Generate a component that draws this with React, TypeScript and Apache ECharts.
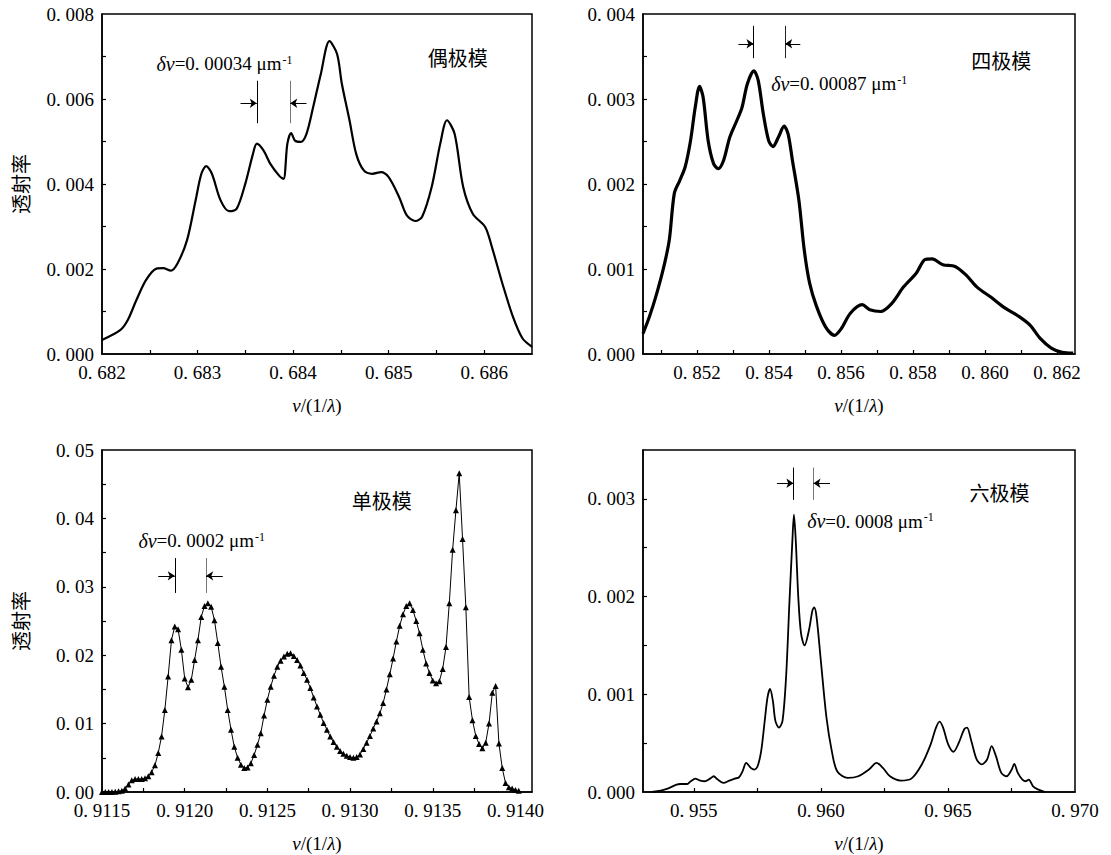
import React, { useEffect, useRef } from "react";
import * as echarts from "echarts";

// ---------- data: [ν, transmittance] ----------
const dipoleData: [number, number][] = [
  [0.682, 0.00033], [0.68219, 0.00056], [0.68227, 0.0008], [0.68236, 0.00127],
  [0.68246, 0.00174], [0.68257, 0.00201], [0.68264, 0.00202], [0.68272, 0.00196],
  [0.68279, 0.00213], [0.68289, 0.00268], [0.68298, 0.00362], [0.68304, 0.00424],
  [0.68309, 0.00442], [0.68315, 0.00424], [0.68324, 0.00362], [0.68333, 0.00336],
  [0.68341, 0.00342], [0.6835, 0.00401], [0.68358, 0.00471], [0.68362, 0.00495],
  [0.68369, 0.00479], [0.68376, 0.00448], [0.68386, 0.00418], [0.6839, 0.00412],
  [0.68394, 0.00495], [0.68398, 0.0052], [0.68402, 0.00502], [0.68408, 0.00499],
  [0.68414, 0.00518], [0.68421, 0.00581], [0.68429, 0.00659], [0.68438, 0.00736],
  [0.68446, 0.00706], [0.68451, 0.00636], [0.68459, 0.0055], [0.68466, 0.00471],
  [0.68474, 0.00432], [0.68483, 0.00424], [0.68492, 0.00428], [0.685, 0.00416],
  [0.68511, 0.00369], [0.68519, 0.00326], [0.68528, 0.00313], [0.68535, 0.00323],
  [0.68545, 0.00393], [0.68554, 0.00495], [0.68561, 0.0055], [0.68569, 0.00518],
  [0.68578, 0.00393], [0.68588, 0.0033], [0.68601, 0.00299], [0.68608, 0.00252],
  [0.68619, 0.00166], [0.6863, 0.00088], [0.6864, 0.00037], [0.6865, 0.00017],
];

const quadrupoleData: [number, number][] = [
  [0.8505, 0.00024], [0.85068, 0.00044], [0.85088, 0.00071], [0.85108, 0.00103],
  [0.85123, 0.00134], [0.85137, 0.00189], [0.85152, 0.00204], [0.85167, 0.0022],
  [0.85182, 0.00251], [0.85195, 0.0029], [0.85207, 0.00315], [0.85217, 0.00302],
  [0.85231, 0.00251], [0.85246, 0.00224], [0.85259, 0.00218], [0.85274, 0.00228],
  [0.85291, 0.00255], [0.85311, 0.00275], [0.85325, 0.0029], [0.8534, 0.00318],
  [0.85358, 0.00333], [0.8537, 0.00322], [0.85384, 0.00283], [0.85399, 0.00251],
  [0.85411, 0.00244], [0.85426, 0.00255], [0.85442, 0.00268], [0.85453, 0.00259],
  [0.85465, 0.00228], [0.85483, 0.00181], [0.85498, 0.00122], [0.85513, 0.00083],
  [0.85532, 0.00056], [0.85557, 0.00032], [0.85582, 0.00022], [0.85601, 0.0003],
  [0.85626, 0.00048], [0.85659, 0.00058], [0.8568, 0.00052], [0.8571, 0.0005],
  [0.8574, 0.00059], [0.85774, 0.00079], [0.85809, 0.00095], [0.85833, 0.00111],
  [0.85853, 0.00112], [0.85883, 0.00105], [0.85917, 0.00103], [0.85947, 0.00093],
  [0.85977, 0.00079], [0.86016, 0.00067], [0.86056, 0.00054], [0.86095, 0.00044],
  [0.86125, 0.00034], [0.86154, 0.00018], [0.86184, 0.00007], [0.86214, 0.00002],
  [0.86245, 0.00001],
];

const monopoleData: [number, number][] = [
  [0.9115, 0], [0.91152, 0], [0.91154, 0], [0.91156, 0], [0.91158, 0.00005],
  [0.9116, 0.0001], [0.91162, 0.0002], [0.91164, 0.0005], [0.91166, 0.0011],
  [0.91168, 0.0017], [0.9117, 0.0019], [0.91172, 0.0019], [0.91174, 0.0019],
  [0.91176, 0.002], [0.91178, 0.0023], [0.9118, 0.0029], [0.91182, 0.0039],
  [0.91184, 0.0057], [0.91186, 0.0081], [0.91188, 0.012], [0.9119, 0.0169],
  [0.91192, 0.0222], [0.91194, 0.0242], [0.91196, 0.0238], [0.91198, 0.0208],
  [0.912, 0.0166], [0.91202, 0.0153], [0.91204, 0.0164], [0.91206, 0.0193],
  [0.91208, 0.0222], [0.9121, 0.0256], [0.91212, 0.0272], [0.91214, 0.0276],
  [0.91216, 0.0271], [0.91218, 0.0251], [0.9122, 0.0218], [0.91222, 0.0183],
  [0.91224, 0.0154], [0.91226, 0.012], [0.91228, 0.0091], [0.9123, 0.0066],
  [0.91232, 0.005], [0.91234, 0.004], [0.91236, 0.0035], [0.91238, 0.0036],
  [0.9124, 0.0042], [0.91242, 0.0054], [0.91244, 0.0069], [0.91246, 0.0086],
  [0.91248, 0.0112], [0.9125, 0.0135], [0.91252, 0.0154], [0.91254, 0.017],
  [0.91256, 0.0183], [0.91258, 0.0192], [0.9126, 0.0198], [0.91262, 0.0202],
  [0.91264, 0.0203], [0.91266, 0.0199], [0.91268, 0.0193], [0.9127, 0.0185],
  [0.91272, 0.0174], [0.91274, 0.0164], [0.91276, 0.0152], [0.91278, 0.0138],
  [0.9128, 0.0125], [0.91282, 0.0113], [0.91284, 0.0101], [0.91286, 0.0091],
  [0.91288, 0.0081], [0.9129, 0.0073], [0.91292, 0.0066], [0.91294, 0.006],
  [0.91296, 0.0056], [0.91298, 0.0053], [0.913, 0.0051], [0.91302, 0.005],
  [0.91304, 0.0051], [0.91306, 0.0055], [0.91308, 0.0063], [0.9131, 0.0072],
  [0.91312, 0.0082], [0.91314, 0.0093], [0.91316, 0.0103], [0.91318, 0.0115],
  [0.9132, 0.013], [0.91322, 0.015], [0.91324, 0.0172], [0.91326, 0.0195],
  [0.91328, 0.022], [0.9133, 0.0243], [0.91332, 0.026], [0.91334, 0.0272],
  [0.91336, 0.0276], [0.91338, 0.0266], [0.9134, 0.025], [0.91342, 0.0232],
  [0.91344, 0.0208], [0.91346, 0.0188], [0.91348, 0.0174], [0.9135, 0.0163],
  [0.91352, 0.0159], [0.91354, 0.0162], [0.91356, 0.018], [0.91358, 0.0212],
  [0.9136, 0.0276], [0.91362, 0.0354], [0.91364, 0.0412], [0.91366, 0.0466],
  [0.91368, 0.037], [0.9137, 0.027], [0.91372, 0.0139], [0.91374, 0.0105],
  [0.91376, 0.0082], [0.91378, 0.007], [0.9138, 0.0064], [0.91382, 0.0072],
  [0.91384, 0.01], [0.91386, 0.0145], [0.91388, 0.0155], [0.9139, 0.0071],
  [0.91392, 0.0035], [0.91394, 0.0013], [0.91396, 0.0007], [0.91398, 0.0005],
  [0.914, 0.0003], [0.91402, 0.0002],
];

const hexapoleData: [number, number][] = [
  [0.95335, 0], [0.9537, 0.000014], [0.95397, 0.000034], [0.95432, 0.000075],
  [0.95446, 0.000082], [0.95474, 0.000082], [0.95488, 0.00011], [0.95506, 0.000137],
  [0.95522, 0.00012], [0.95543, 0.00011], [0.95564, 0.000137], [0.95578, 0.000161],
  [0.95594, 0.000127], [0.95617, 0.000093], [0.9564, 0.000117], [0.95661, 0.000137],
  [0.95678, 0.000151], [0.95692, 0.000213], [0.95706, 0.000299], [0.95724, 0.000247],
  [0.95738, 0.00023], [0.95751, 0.000264], [0.95765, 0.000419], [0.95779, 0.000728],
  [0.9579, 0.000968], [0.958, 0.001054], [0.95811, 0.000934], [0.95821, 0.000728],
  [0.95835, 0.000659], [0.95849, 0.000728], [0.95863, 0.001174], [0.95876, 0.001929],
  [0.95888, 0.002582], [0.95894, 0.002839], [0.95901, 0.002582], [0.95911, 0.001998],
  [0.95922, 0.00162], [0.95936, 0.0015], [0.95953, 0.001655], [0.95967, 0.001861],
  [0.95974, 0.001888], [0.95983, 0.001792], [0.96001, 0.001311], [0.96022, 0.000762],
  [0.96043, 0.000419], [0.96064, 0.000213], [0.96106, 0.000144], [0.96147, 0.000161],
  [0.96189, 0.00023], [0.96219, 0.000299], [0.96244, 0.000247], [0.96272, 0.000161],
  [0.96314, 0.000117], [0.96356, 0.000137], [0.96397, 0.000282], [0.96432, 0.000488],
  [0.96453, 0.000659], [0.96467, 0.000721], [0.96481, 0.000659], [0.96501, 0.000488],
  [0.96522, 0.000412], [0.96543, 0.000505], [0.96564, 0.000642], [0.96575, 0.000659],
  [0.96592, 0.000522], [0.96613, 0.000333], [0.96633, 0.000282], [0.96654, 0.000333],
  [0.96672, 0.00047], [0.96689, 0.000367], [0.9671, 0.000196], [0.96731, 0.000161],
  [0.96751, 0.00023], [0.96761, 0.000288], [0.96775, 0.000196], [0.96793, 0.000127],
  [0.96807, 0.00011], [0.96818, 0.000127], [0.96835, 0.000058], [0.96856, 0.000024],
  [0.96883, 0],
];

// ---------- axes: ranges, ticks and tick labels ----------
const xRanges: [number, number][] = [[0.682, 0.6865], [0.8505, 0.8625], [0.9115, 0.9141], [0.953, 0.97]];
const yRanges: [number, number][] = [[0, 0.008], [0, 0.004], [0, 0.05], [0, 0.0035]];

const xLabels0 = [0.682, 0.683, 0.684, 0.685, 0.686];
const xTicks0 = [0.6825, 0.683, 0.6835, 0.684, 0.6845, 0.685, 0.6855, 0.686];
const xLabels1 = [0.852, 0.854, 0.856, 0.858, 0.86, 0.862];
const xTicks1 = [0.851, 0.852, 0.853, 0.854, 0.855, 0.856, 0.857, 0.858, 0.859, 0.86, 0.861, 0.862];
const xLabels2 = [0.9115, 0.912, 0.9125, 0.913, 0.9135, 0.914];
const xTicks2 = [0.91175, 0.912, 0.91225, 0.9125, 0.91275, 0.913, 0.91325, 0.9135, 0.91375, 0.914];
const xLabels3 = [0.955, 0.96, 0.965, 0.97];
const xTicks3 = [0.955, 0.9575, 0.96, 0.9625, 0.965, 0.9675];

const yLabels0 = [0, 0.002, 0.004, 0.006, 0.008];
const yTicks0 = [0.001, 0.002, 0.003, 0.004, 0.005, 0.006, 0.007];
const yLabels1 = [0, 0.001, 0.002, 0.003, 0.004];
const yTicks1 = [0.0005, 0.001, 0.0015, 0.002, 0.0025, 0.003, 0.0035];
const yLabels2 = [0, 0.01, 0.02, 0.03, 0.04, 0.05];
const yTicks2 = [0.005, 0.01, 0.015, 0.02, 0.025, 0.03, 0.035, 0.04, 0.045];
const yLabels3 = [0, 0.001, 0.002, 0.003];
const yTicks3 = [0.0005, 0.001, 0.0015, 0.002, 0.0025, 0.003];

const xDecimals = [3, 3, 4, 3];
const yDecimals = [3, 3, 2, 3];

const panelTitles = ["偶极模", "四极模", "单极模", "六极模"];
const deltaValues = ["0. 00034", "0. 00087", "0. 0002", "0. 0008"];
const yAxisTitle = "透射率";
const xAxisTitle = "{i|ν}/(1/{i|λ})";

// ---------- annotation placement (data coords) ----------
const titlePos: [number, number][] = [[0.68541, 0.00697], [0.85962, 0.00345], [0.91301, 0.0426], [0.96585, 0.00306]];
const deltaPos: [number, number][] = [[0.68257, 0.00683], [0.85406, 0.00318], [0.91172, 0.0367], [0.95946, 0.00277]];
const brackets = [
  { x1: 0.68362, x2: 0.68397, lo: 0.00543, hi: 0.00643, ya: 0.0059, len: 0.00017, c2: "#777" },
  { x1: 0.85357, x2: 0.85445, lo: 0.00348, hi: 0.00386, ya: 0.00365, len: 0.00042, c2: "#222" },
  { x1: 0.91194, x2: 0.91213, lo: 0.0291, hi: 0.0342, ya: 0.0316, len: 0.0001, c2: "#777" },
  { x1: 0.95892, x2: 0.95971, lo: 0.00299, hi: 0.00332, ya: 0.00316, len: 0.00065, c2: "#777" },
];

const GRIDS = [
  { left: 102, top: 14, width: 430, height: 340 },
  { left: 643, top: 14, width: 432, height: 340 },
  { left: 102, top: 450, width: 430, height: 342 },
  { left: 643, top: 450, width: 432, height: 342 },
];

const SERIF = "Liberation Serif";
const CJK = "Noto Sans CJK SC";

const xTicksAll = [xTicks0, xTicks1, xTicks2, xTicks3];
const xLabelsAll = [xLabels0, xLabels1, xLabels2, xLabels3];
const yTicksAll = [yTicks0, yTicks1, yTicks2, yTicks3];
const yLabelsAll = [yLabels0, yLabels1, yLabels2, yLabels3];
const seriesData = [dipoleData, quadrupoleData, monopoleData, hexapoleData];

// "0.004" -> "0. 004" (the source typesetting puts a gap after the point)
const fmt = (v: number, d: number) => v.toFixed(d).replace(".", ". ");

function bracketLines(b: typeof brackets[number]) {
  const ls1 = { color: "#000", width: 1, type: "solid" };
  const ls2 = { color: b.c2, width: 1, type: "solid" };
  return [
    [{ coord: [b.x1, b.lo], symbol: "none", lineStyle: ls1 }, { coord: [b.x1, b.hi], symbol: "none" }],
    [{ coord: [b.x2, b.lo], symbol: "none", lineStyle: ls2 }, { coord: [b.x2, b.hi], symbol: "none" }],
    [{ coord: [b.x1 - b.len, b.ya], symbol: "none", lineStyle: ls1 }, { coord: [b.x1, b.ya], symbol: "arrow" }],
    [{ coord: [b.x2 + b.len, b.ya], symbol: "none", lineStyle: ls1 }, { coord: [b.x2, b.ya], symbol: "arrow" }],
  ];
}

export default function App() {
  const ref = useRef<HTMLDivElement>(null);
  useEffect(() => {
    if (!ref.current) return;
    const chart = echarts.init(ref.current, undefined, { renderer: "svg" });
    const axisLine = { show: true, onZero: false, lineStyle: { color: "#000", width: 1.5 } };
    const option: any = {
      animation: false,
      backgroundColor: "#fff",
      grid: GRIDS.map((g) => ({ ...g, show: true, borderColor: "#000", borderWidth: 1.5, backgroundColor: "transparent" })),
      xAxis: GRIDS.map((_, i) => ({
        type: "value",
        gridIndex: i,
        min: xRanges[i][0],
        max: xRanges[i][1],
        name: xAxisTitle,
        nameLocation: "middle",
        nameGap: 42,
        nameTextStyle: {
          color: "#000", fontFamily: SERIF, fontSize: 19,
          rich: { i: { fontStyle: "italic", fontFamily: SERIF, fontSize: 19, color: "#000" } },
        },
        axisLine,
        axisTick: { show: true, inside: true, length: 4, customValues: xTicksAll[i], lineStyle: { color: "#000", width: 1.2 } },
        axisLabel: {
          customValues: xLabelsAll[i], margin: 9, color: "#000", fontFamily: SERIF, fontSize: 19,
          formatter: (v: number) => fmt(v, xDecimals[i]),
        },
        splitLine: { show: false },
      })),
      yAxis: GRIDS.map((_, i) => ({
        type: "value",
        gridIndex: i,
        min: yRanges[i][0],
        max: yRanges[i][1],
        name: i % 2 === 0 ? yAxisTitle : "",
        nameLocation: "middle",
        nameRotate: 90,
        nameGap: 72,
        nameTextStyle: { color: "#000", fontFamily: CJK, fontSize: 20 },
        axisLine,
        axisTick: { show: true, inside: true, length: 4, customValues: yTicksAll[i], lineStyle: { color: "#000", width: 1.2 } },
        axisLabel: {
          customValues: yLabelsAll[i], margin: 8, color: "#000", fontFamily: SERIF, fontSize: 19,
          formatter: (v: number) => fmt(v, yDecimals[i]),
        },
        splitLine: { show: false },
      })),
      series: seriesData.map((d, i) => ({
        type: "line",
        xAxisIndex: i,
        yAxisIndex: i,
        data: d,
        smooth: i === 2 ? false : 0.3,
        showSymbol: i === 2,
        symbol: "triangle",
        symbolSize: 6,
        itemStyle: { color: "#000" },
        lineStyle: { color: "#000", width: [2.2, 3.2, 1, 1.8][i] },
        silent: true,
        markLine: {
          silent: true,
          symbolSize: 7,
          label: { show: false },
          lineStyle: { color: "#000", width: 1, type: "solid" },
          emphasis: { disabled: true },
          data: bracketLines(brackets[i]),
        },
      })),
    };
    chart.setOption(option);

    const graphics: any[] = [];
    for (let i = 0; i < 4; i++) {
      const tp = chart.convertToPixel({ gridIndex: i } as any, titlePos[i]) as number[];
      graphics.push({
        type: "text", x: tp[0], y: tp[1], silent: true,
        style: { text: panelTitles[i], fill: "#000", font: `20px ${CJK}`, textVerticalAlign: "middle", textAlign: "left" },
      });
      const dp = chart.convertToPixel({ gridIndex: i } as any, deltaPos[i]) as number[];
      graphics.push({
        type: "text", x: dp[0], y: dp[1], silent: true,
        style: {
          text: `{i|δν}{n|=${deltaValues[i]} μm}{s|-1}`,
          fill: "#000",
          font: `19px ${SERIF}`,
          textVerticalAlign: "middle",
          textAlign: "left",
          rich: {
            i: { fontStyle: "italic", fontSize: 20, fontFamily: SERIF, fill: "#000" },
            n: { fontSize: 19, fontFamily: SERIF, fill: "#000" },
            s: { fontSize: 12, fontFamily: SERIF, fill: "#000", verticalAlign: "top", padding: [0, 0, 8, 1] },
          },
        },
      });
    }
    chart.setOption({ graphic: graphics });
    return () => chart.dispose();
  }, []);
  return (
    <div
      ref={ref}
      style={{ position: "absolute", left: 0, top: 0, width: 1111, height: 855, background: "#fff" }}
    />
  );
}
